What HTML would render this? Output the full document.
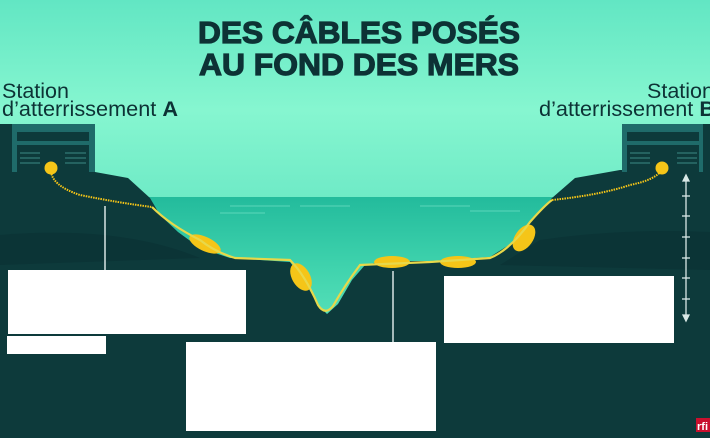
<!DOCTYPE html>
<html><head><meta charset="utf-8"><style>
html,body{margin:0;padding:0;width:710px;height:438px;overflow:hidden;background:#0c3033}
</style></head><body>
<svg width="710" height="438" viewBox="0 0 710 438" xmlns="http://www.w3.org/2000/svg">
<defs>
<linearGradient id="sky" x1="0" y1="0" x2="0" y2="1">
<stop offset="0" stop-color="#62e6c3"/><stop offset="0.55" stop-color="#86f6d0"/><stop offset="1" stop-color="#6eeac6"/>
</linearGradient>
<linearGradient id="sea" x1="0" y1="0" x2="0" y2="1">
<stop offset="0" stop-color="#23bb9c"/><stop offset="0.5" stop-color="#3fd3ad"/><stop offset="1" stop-color="#5ee4bc"/>
</linearGradient>
</defs>
<rect width="710" height="200" fill="url(#sky)"/>
<rect y="197" width="710" height="140" fill="url(#sea)"/>
<g stroke="#7fe6cc" stroke-width="1" opacity="0.6">
<line x1="230" y1="206" x2="290" y2="206"/><line x1="300" y1="206" x2="350" y2="206"/><line x1="420" y1="206" x2="470" y2="206"/><line x1="220" y1="213" x2="265" y2="213"/><line x1="470" y1="211" x2="520" y2="211"/>
</g>
<path d="M0 172 L95 172 L128 178 L150 198 L160 215 L178 232 L200 248 L230 258 L290 262 L305 282 L318 305 L327 314 L338 304 L352 280 L365 265 L385 261 L430 261 L490 257 L512 243 L530 222 L552 198 L575 178 L620 170 L710 170 L710 438 L0 438 Z" fill="#0d3a3b"/>
<path d="M0 235 Q120 225 200 258 L0 265 Z" fill="#0a3133" opacity="0.6"/>
<path d="M540 240 Q620 228 710 232 L710 270 L500 265 Z" fill="#0a3133" opacity="0.6"/>
<g fill="#f5c518">
<ellipse cx="205" cy="244" rx="17" ry="7" transform="rotate(25 205 244)"/>
<ellipse cx="301" cy="277" rx="9" ry="15" transform="rotate(-30 301 277)"/>
<ellipse cx="392" cy="262" rx="18" ry="6"/>
<ellipse cx="458" cy="262" rx="18" ry="6"/>
<ellipse cx="524" cy="238" rx="9" ry="15" transform="rotate(35 524 238)"/>
</g>
<path d="M152 207 Q170 225 200 240 Q215 252 235 258 L290 260 Q305 275 318 305 Q325 316 333 306 Q345 285 360 265 L430 262 L490 258 Q510 250 530 222 Q545 205 552 200" fill="none" stroke="#e8d84a" stroke-width="2.2"/>
<path d="M51 169 Q50 185 80 195 Q120 203 152 207" fill="none" stroke="#f5c518" stroke-width="2" stroke-dasharray="1.5 1"/>
<path d="M552 200 Q600 195 630 185 Q655 180 662 170" fill="none" stroke="#f5c518" stroke-width="2" stroke-dasharray="1.5 1"/>
<g>
<rect x="0" y="124" width="95" height="48" fill="#1f6b6a"/>
<rect x="0" y="124" width="12" height="48" fill="#0d3a3b"/>
<rect x="17" y="132" width="72" height="9" fill="#0d3a3b"/>
<rect x="17" y="145" width="72" height="27" fill="#0d3a3b"/>
<g stroke="#3b8a86" stroke-width="1"><line x1="20" y1="153" x2="40" y2="153"/><line x1="20" y1="158" x2="40" y2="158"/><line x1="20" y1="163" x2="40" y2="163"/><line x1="65" y1="153" x2="86" y2="153"/><line x1="65" y1="158" x2="86" y2="158"/><line x1="65" y1="163" x2="86" y2="163"/></g>
<circle cx="51" cy="168" r="6.5" fill="#f5c518"/>
</g>
<g>
<rect x="622" y="124" width="88" height="48" fill="#1f6b6a"/>
<rect x="703" y="124" width="7" height="48" fill="#0d3a3b"/>
<rect x="627" y="132" width="72" height="9" fill="#0d3a3b"/>
<rect x="627" y="145" width="72" height="27" fill="#0d3a3b"/>
<g stroke="#3b8a86" stroke-width="1"><line x1="630" y1="153" x2="650" y2="153"/><line x1="630" y1="158" x2="650" y2="158"/><line x1="630" y1="163" x2="650" y2="163"/><line x1="677" y1="153" x2="697" y2="153"/><line x1="677" y1="158" x2="697" y2="158"/><line x1="677" y1="163" x2="697" y2="163"/></g>
<circle cx="662" cy="168" r="6.5" fill="#f5c518"/>
</g>
<g stroke="#d8e8e6" stroke-width="1.3" fill="#d8e8e6">
<line x1="686" y1="178" x2="686" y2="318"/>
<path d="M683 181 L686 175 L689 181 Z"/><path d="M683 315 L686 321 L689 315 Z"/>
<line x1="682" y1="196" x2="690" y2="196"/><line x1="682" y1="216" x2="690" y2="216"/><line x1="682" y1="237" x2="690" y2="237"/><line x1="682" y1="258" x2="690" y2="258"/><line x1="682" y1="278" x2="690" y2="278"/><line x1="682" y1="299" x2="690" y2="299"/>
</g>
<line x1="105" y1="206" x2="105" y2="270" stroke="#d8e4e4" stroke-width="1.5"/>
<line x1="393" y1="271" x2="393" y2="342" stroke="#d8e4e4" stroke-width="1.5"/>
<g fill="#ffffff">
<rect x="8" y="270" width="238" height="64"/>
<rect x="7" y="336" width="99" height="18"/>
<rect x="186" y="342" width="250" height="89"/>
<rect x="444" y="276" width="230" height="67"/>
</g>
<g font-family="Liberation Sans, sans-serif" fill="#0d3235">
<text x="359" y="43" font-size="31" font-weight="bold" text-anchor="middle" stroke="#0d3235" stroke-width="1.2" textLength="322" lengthAdjust="spacingAndGlyphs">DES CÂBLES POSÉS</text>
<text x="359" y="75" font-size="31" font-weight="bold" text-anchor="middle" stroke="#0d3235" stroke-width="1.2" textLength="320" lengthAdjust="spacingAndGlyphs">AU FOND DES MERS</text>
<text x="2" y="98" font-size="21" textLength="67" lengthAdjust="spacingAndGlyphs">Station</text>
<text x="2" y="116" font-size="21" textLength="176" lengthAdjust="spacingAndGlyphs">d’atterrissement <tspan font-weight="bold">A</tspan></text>
<text x="647" y="98" font-size="21" textLength="67" lengthAdjust="spacingAndGlyphs">Station</text>
<text x="539" y="116" font-size="21" textLength="176" lengthAdjust="spacingAndGlyphs">d’atterrissement <tspan font-weight="bold">B</tspan></text>
</g>
<rect x="696" y="418" width="14" height="14" fill="#c8102e"/>
<text x="697" y="430" font-family="Liberation Sans, sans-serif" font-size="11" font-weight="bold" fill="#fff">rfi</text>
</svg>
</body></html>
